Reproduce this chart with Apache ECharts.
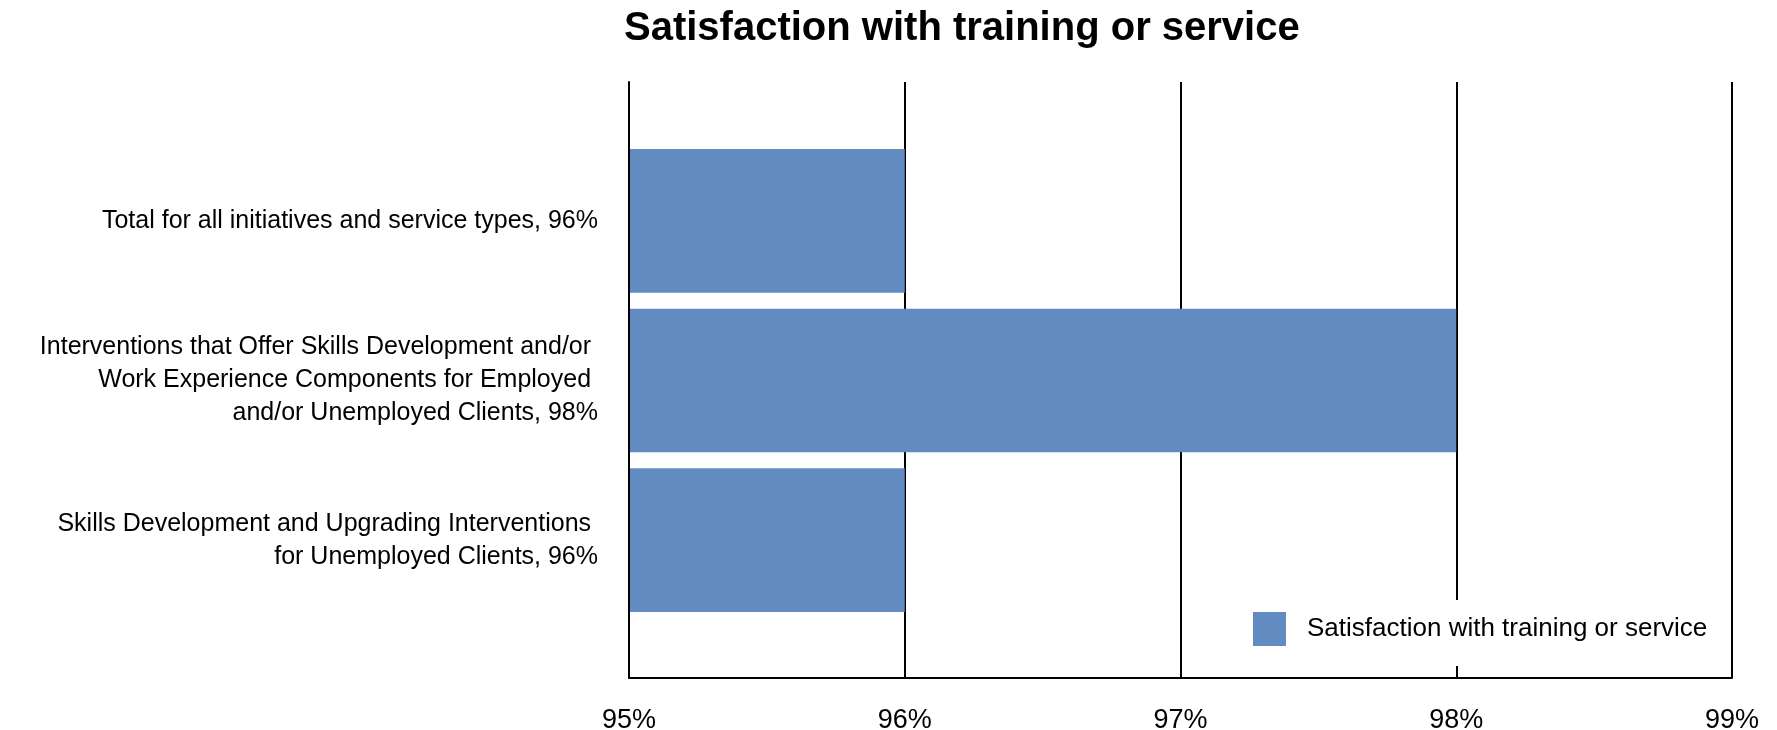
<!DOCTYPE html>
<html>
<head>
<meta charset="utf-8">
<script src="https://cdn.jsdelivr.net/npm/echarts@6/dist/echarts.min.js"></script>
<style>
  html, body { margin: 0; padding: 0; background: #fff; }
  #chart { width: 1777px; height: 730px; }
</style>
</head>
<body>
<div id="chart"></div>
<script>
// Category labels (top to bottom) and their satisfaction rates, in percent
const categories = [
  'Total for all initiatives and service types, 96%',
  'Interventions that Offer Skills Development and/or \nWork Experience Components for Employed \nand/or Unemployed Clients, 98%',
  'Skills Development and Upgrading Interventions \nfor Unemployed Clients, 96%'
];
const satisfaction = [96, 98, 96];
const seriesName = 'Satisfaction with training or service';
const chartTitle = 'Satisfaction with training or service';
const axisMin = 95;
const axisMax = 99;
const axisStep = 1;

const FONT = '"Liberation Sans", Arial, sans-serif';
const INK = '#000';
const BAR = '#628bc2';

const chart = echarts.init(document.getElementById('chart'), null, { renderer: 'canvas' });

chart.setOption({
  animation: false,
  backgroundColor: '#fff',
  textStyle: { fontFamily: FONT, color: INK },
  title: {
    text: chartTitle,
    left: 624,
    top: 9,
    padding: 0,
    textStyle: { fontFamily: FONT, fontSize: 40, fontWeight: 'bold', color: INK }
  },
  legend: {
    data: [seriesName],
    left: 1243,
    top: 600,
    padding: [12, 14, 20, 10],
    backgroundColor: '#fff',
    itemWidth: 33,
    itemHeight: 34,
    icon: 'rect',
    selectedMode: false,
    textStyle: { fontFamily: FONT, fontSize: 26, color: INK, padding: [0, 0, 0, 16] }
  },
  grid: [
    // band holding the bars
    { left: 629, right: 45, top: 141, bottom: 110, containLabel: false, outerBoundsMode: 'none' },
    // frame with the value scale and vertical rules
    { left: 629, right: 45, top: 82, bottom: 52, containLabel: false, outerBoundsMode: 'none' }
  ],
  xAxis: [
    {
      gridIndex: 0, type: 'value', min: axisMin, max: axisMax, interval: axisStep,
      show: false
    },
    {
      gridIndex: 1, type: 'value', min: axisMin, max: axisMax, interval: axisStep,
      axisLine: { show: true, onZero: false, lineStyle: { color: INK, width: 2 } },
      axisTick: { show: false },
      axisLabel: {
        margin: 29, fontFamily: FONT, fontSize: 27, color: INK,
        formatter: v => v + '%'
      },
      splitLine: { show: true, lineStyle: { color: INK, width: 2 } }
    }
  ],
  yAxis: [
    {
      gridIndex: 0, type: 'category', data: categories, inverse: true,
      axisLine: { show: false },
      axisTick: { show: false },
      splitLine: { show: false },
      axisLabel: {
        margin: 31, fontFamily: FONT, fontSize: 25, lineHeight: 33,
        color: INK, align: 'right'
      }
    },
    {
      gridIndex: 1, type: 'value', min: 0, max: 1, z: 5,
      axisLine: { show: true, onZero: false, lineStyle: { color: INK, width: 2 } },
      axisTick: { show: false },
      axisLabel: { show: false },
      splitLine: { show: false }
    }
  ],
  series: [
    {
      name: seriesName,
      type: 'bar',
      xAxisIndex: 0,
      yAxisIndex: 0,
      data: satisfaction,
      barCategoryGap: '10%',
      itemStyle: { color: BAR },
      label: { show: false }
    }
  ]
});
</script>
</body>
</html>
